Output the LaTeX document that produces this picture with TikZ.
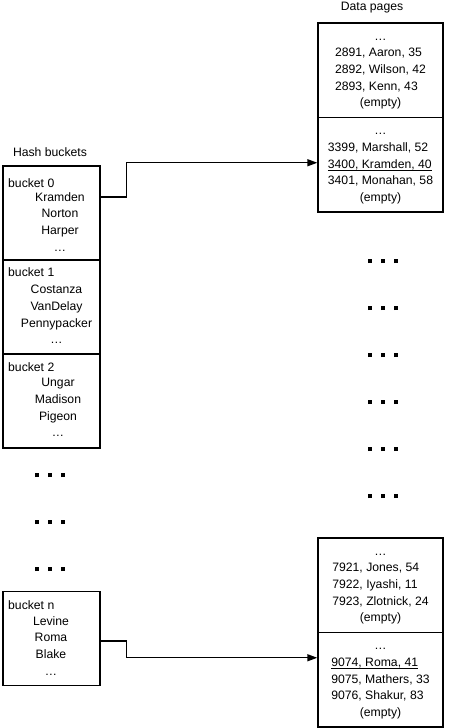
\documentclass[tikz,border=0pt]{standalone}
\usepackage{fontspec}
\setmainfont{Liberation Sans}
\usetikzlibrary{arrows.meta}
\newcommand{\gapdots}{\rule{4pt}{4pt}\hspace{9pt}\rule{4pt}{4pt}\hspace{9pt}\rule{4pt}{4pt}}
\newcommand{\ctr}[1]{\multicolumn{1}{@{}c@{}}{#1}}
\newcommand{\hitrow}[1]{\setbox0\hbox{#1}\rlap{\rule[-3pt]{\wd0}{1.3pt}}\box0}
\newcommand{\namelist}[1]{\begin{tabular}{@{}c@{}}#1\end{tabular}}
\newcommand{\recordlist}[1]{\begin{tabular}{@{}l@{}}#1\end{tabular}}

\begin{document}
\begin{tikzpicture}[x=1pt, y=-1pt, font=\fontsize{12.2}{16.7}\selectfont,
  bucket/.style={rectangle, draw, line width=1.4pt, minimum width=97pt, minimum height=94pt, inner sep=0pt},
  page/.style={rectangle, draw, line width=1.4pt, minimum width=125pt, minimum height=94.5pt, inner sep=0pt},
  tag/.style={anchor=west, inner sep=0pt},
  names/.style={inner sep=0pt},
  gap/.style={inner sep=0pt},
  link/.style={-{Triangle[length=10pt,width=7pt]}, line width=1.4pt}]
\useasboundingbox (0,0) rectangle (450,728);

% Headings
\node (hashhead) at (50,152) {Hash buckets};
\node (pagehead) at (372,8) {Data pages};

% Hash buckets
\node[bucket] (b0) at (51.5,213) {};
\node[tag] (b0tag) at (8,183) {bucket 0};
\node[names] (b0names) at (60,223) {\namelist{Kramden\\Norton\\Harper\\\ldots}};

\node[bucket] (b1) at (51.5,307) {};
\node[tag] (b1tag) at (8,272) {bucket 1};
\node[names] (b1names) at (56.5,315.5) {\namelist{Costanza\\VanDelay\\Pennypacker\\\ldots}};

\node[bucket] (b2) at (51.5,401) {};
\node[tag] (b2tag) at (8,367) {bucket 2};
\node[names] (b2names) at (58,408.5) {\namelist{Ungar\\Madison\\Pigeon\\\ldots}};

\node[bucket] (bn) at (51.5,638.5) {};
\node[tag] (bntag) at (8,605) {bucket n};
\node[names] (bnnames) at (51,647) {\namelist{Levine\\Roma\\Blake\\\ldots}};

% Data pages
\node[page] (pg1) at (380.5,70.25) {\recordlist{\ctr{\ldots}\\2891, Aaron, 35\\2892, Wilson, 42\\2893, Kenn, 43\\\ctr{(empty)}}};
\node[page] (pg2) at (380.5,164.75) {\recordlist{\ctr{\ldots}\\3399, Marshall, 52\\\hitrow{3400, Kramden, 40}\\3401, Monahan, 58\\\ctr{(empty)}}};
\node[page] (pg3) at (380.5,585.25) {\recordlist{\ctr{\ldots}\\7921, Jones, 54\\7922, Iyashi, 11\\7923, Zlotnick, 24\\\ctr{(empty)}}};
\node[page] (pg4) at (380.5,679.75) {\recordlist{\ctr{\ldots}\\\hitrow{9074, Roma, 41}\\9075, Mathers, 33\\9076, Shakur, 83\\\ctr{(empty)}}};

% Gaps
\node[gap] (lgap1) at (50,475) {\gapdots};
\node[gap] (lgap2) at (50,522) {\gapdots};
\node[gap] (lgap3) at (50,569) {\gapdots};
\node[gap] (rgap1) at (383,261) {\gapdots};
\node[gap] (rgap2) at (383,308) {\gapdots};
\node[gap] (rgap3) at (383,355) {\gapdots};
\node[gap] (rgap4) at (383,402) {\gapdots};
\node[gap] (rgap5) at (383,449) {\gapdots};
\node[gap] (rgap6) at (383,496) {\gapdots};

% Pointers
\draw[link] ([yshift=16pt]b0.east) -- ++(26,0) |- ([yshift=2pt]pg2.west);
\draw[link] ([yshift=-2.5pt]bn.east) -- ++(26,0) |- ([yshift=22pt]pg4.west);
\end{tikzpicture}
\end{document}
